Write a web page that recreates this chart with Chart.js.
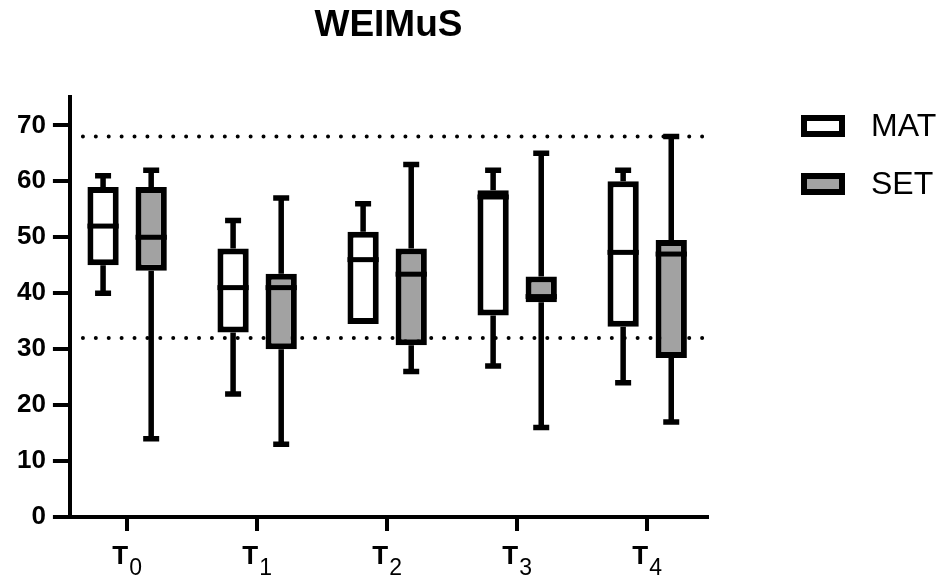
<!DOCTYPE html>
<html>
<head>
<meta charset="utf-8">
<script src="https://cdn.jsdelivr.net/npm/chart.js@4"></script>
<style>
  html, body { margin: 0; padding: 0; background: #fff; }
  #wrap { width: 943px; height: 576px; }
</style>
</head>
<body>
<div id="wrap"><canvas id="cnv" width="943" height="576"></canvas></div>
<script>
(function(){

    // time points (drawn as T + subscript)
    var labels = ["T0", "T1", "T2", "T3", "T4"];
    var labelMain = ["T", "T", "T", "T", "T"];
    var labelSub = ["0", "1", "2", "3", "4"];

    var seriesNames = ["MAT", "SET"];

    // MAT box plots
    var matMin = [40, 22, 34.5, 27, 24];
    var matQ1  = [45, 33, 34.5, 36, 34];
    var matMed = [52, 41, 46, 57.2, 47.3];
    var matQ3  = [59, 48, 51, 58.4, 60];
    var matMax = [61, 53, 56, 62, 62];

    // SET box plots
    var setMin = [14, 13, 26, 16, 17];
    var setQ1  = [44, 30, 30.7, 38.4, 28.4];
    var setMed = [50, 41, 43.4, 39.4, 47];
    var setQ3  = [59, 43.5, 48, 43, 49.5];
    var setMax = [62, 57, 63, 65, 68];

    // reference lines (dotted)
    var refLines = [68, 32];

    var yTicks = [0, 10, 20, 30, 40, 50, 60, 70];

    var FONT = "'Liberation Sans', Arial, sans-serif";
    var GREY = "#a2a2a2";

    function boxes(lo, hi){
        var out = [];
        for (var i = 0; i < lo.length; i++) out.push({x: i, y: [lo[i], hi[i]]});
        return out;
    }

    var stats = [
        {min: matMin, med: matMed, max: matMax, q1: matQ1, q3: matQ3},
        {min: setMin, med: setMed, max: setMax, q1: setQ1, q3: setQ3}
    ];

    // dotted reference lines, behind the boxes
    var refPlugin = {
        id: "refs",
        beforeDatasetsDraw: function(chart){
            var ctx = chart.ctx, y = chart.scales.y, area = chart.chartArea;
            ctx.save();
            ctx.strokeStyle = "#000";
            ctx.lineWidth = 4;
            ctx.lineCap = "round";
            ctx.setLineDash([0, 12.9]);
            refLines.forEach(function(v){
                var py = y.getPixelForValue(v);
                ctx.beginPath();
                ctx.moveTo(area.left + 13, py);
                ctx.lineTo(area.right - 4, py);
                ctx.stroke();
            });
            ctx.restore();
        }
    };

    // whiskers behind, medians on top
    var boxPlugin = {
        id: "boxes",
        beforeDatasetsDraw: function(chart){
            var ctx = chart.ctx, y = chart.scales.y;
            ctx.save();
            ctx.strokeStyle = "#000";
            ctx.lineWidth = 5.5;
            stats.forEach(function(s, di){
                chart.getDatasetMeta(di).data.forEach(function(bar, i){
                    var x = bar.x;
                    if (s.max[i] > s.q3[i]) {
                        var pt = y.getPixelForValue(s.max[i]);
                        ctx.beginPath();
                        ctx.moveTo(x, y.getPixelForValue(s.q3[i]));
                        ctx.lineTo(x, pt);
                        ctx.moveTo(x - 8, pt); ctx.lineTo(x + 8, pt);
                        ctx.stroke();
                    }
                    if (s.min[i] < s.q1[i]) {
                        var pb = y.getPixelForValue(s.min[i]);
                        ctx.beginPath();
                        ctx.moveTo(x, y.getPixelForValue(s.q1[i]));
                        ctx.lineTo(x, pb);
                        ctx.moveTo(x - 8, pb); ctx.lineTo(x + 8, pb);
                        ctx.stroke();
                    }
                });
            });
            ctx.restore();
        },
        afterDatasetsDraw: function(chart){
            var ctx = chart.ctx, y = chart.scales.y;
            ctx.save();
            ctx.strokeStyle = "#000";
            ctx.lineWidth = 5;
            stats.forEach(function(s, di){
                chart.getDatasetMeta(di).data.forEach(function(bar, i){
                    var py = y.getPixelForValue(s.med[i]);
                    ctx.beginPath();
                    ctx.moveTo(bar.x - bar.width / 2, py);
                    ctx.lineTo(bar.x + bar.width / 2, py);
                    ctx.stroke();
                });
            });
            ctx.restore();
        }
    };

    // T with subscript under each x tick
    var xLabelPlugin = {
        id: "xlabels",
        afterDraw: function(chart){
            var ctx = chart.ctx, xs = chart.scales.x;
            ctx.save();
            ctx.fillStyle = "#000";
            ctx.textBaseline = "alphabetic";
            ctx.textAlign = "left";
            for (var i = 0; i < labels.length; i++) {
                var cx = xs.getPixelForValue(i);
                ctx.font = "bold 26px " + FONT;
                var w1 = ctx.measureText(labelMain[i]).width;
                ctx.font = "23px " + FONT;
                var w2 = ctx.measureText(labelSub[i]).width;
                var x0 = cx - (w1 + w2 + 1) / 2;
                ctx.font = "bold 26px " + FONT;
                ctx.fillText(labelMain[i], x0, 564);
                ctx.font = "23px " + FONT;
                ctx.fillText(labelSub[i], x0 + w1 + 1, 575);
            }
            ctx.restore();
        }
    };

    // legend on the right
    var legendPlugin = {
        id: "sideLegend",
        afterDraw: function(chart){
            var ctx = chart.ctx;
            var fills = ["#fff", GREY];
            ctx.save();
            for (var i = 0; i < seriesNames.length; i++) {
                var top = 115 + i * 58;
                ctx.fillStyle = "#000";
                ctx.fillRect(801, top, 44, 22);
                ctx.fillStyle = fills[i];
                ctx.fillRect(807, top + 6, 32, 10);
                ctx.fillStyle = "#000";
                ctx.font = "32px " + FONT;
                ctx.textBaseline = "middle";
                ctx.textAlign = "left";
                ctx.fillText(seriesNames[i], 871, top + 12);
            }
            ctx.restore();
        }
    };

    var data = {
        datasets: [
            {
                label: seriesNames[0],
                data: boxes(matQ1, matQ3),
                backgroundColor: "#fff",
                borderColor: "#000",
                borderWidth: 6,
                borderSkipped: false
            },
            {
                label: seriesNames[1],
                data: boxes(setQ1, setQ3),
                backgroundColor: GREY,
                borderColor: "#000",
                borderWidth: 6,
                borderSkipped: false
            }
        ]
    };

    var opt = {
        responsive: false,
        animation: false,
        layout: { padding: { left: 10, right: 236, top: 0, bottom: 45 } },
        datasets: { bar: { categoryPercentage: 0.74, barPercentage: 0.65 } },
        plugins: {
            legend: { display: false },
            tooltip: { enabled: false },
            title: {
                display: true,
                text: "WEIMuS",
                fullSize: false,
                color: "#000",
                font: { family: FONT, size: 37, weight: "bold" },
                padding: { top: 4, bottom: 49 }
            }
        },
        scales: {
            x: {
                type: "linear",
                min: -0.44,
                max: 4.46,
                offset: false,
                afterBuildTicks: function(scale){
                    scale.ticks = labels.map(function(l, i){ return {value: i}; });
                },
                grid: { display: true, drawOnChartArea: false, drawTicks: true, offset: false,
                        tickLength: 14, tickWidth: 4, lineWidth: 4, tickColor: "#000" },
                border: { display: true, color: "#000", width: 4 },
                ticks: { display: false }
            },
            y: {
                min: 0,
                max: 75,
                afterBuildTicks: function(scale){
                    scale.ticks = yTicks.map(function(v){ return {value: v}; });
                },
                grid: { display: true, drawOnChartArea: false, drawTicks: true,
                        tickLength: 17, tickWidth: 4, lineWidth: 4, tickColor: "#000" },
                border: { display: true, color: "#000", width: 4 },
                ticks: {
                    color: "#000",
                    padding: 7,
                    font: { family: FONT, size: 26, weight: "bold" }
                }
            }
        }
    };

    var myChart = new Chart(document.getElementById("cnv"), {
        type: "bar",
        data: data,
        options: opt,
        plugins: [refPlugin, boxPlugin, xLabelPlugin, legendPlugin]
    });

})();
</script>
</body>
</html>
